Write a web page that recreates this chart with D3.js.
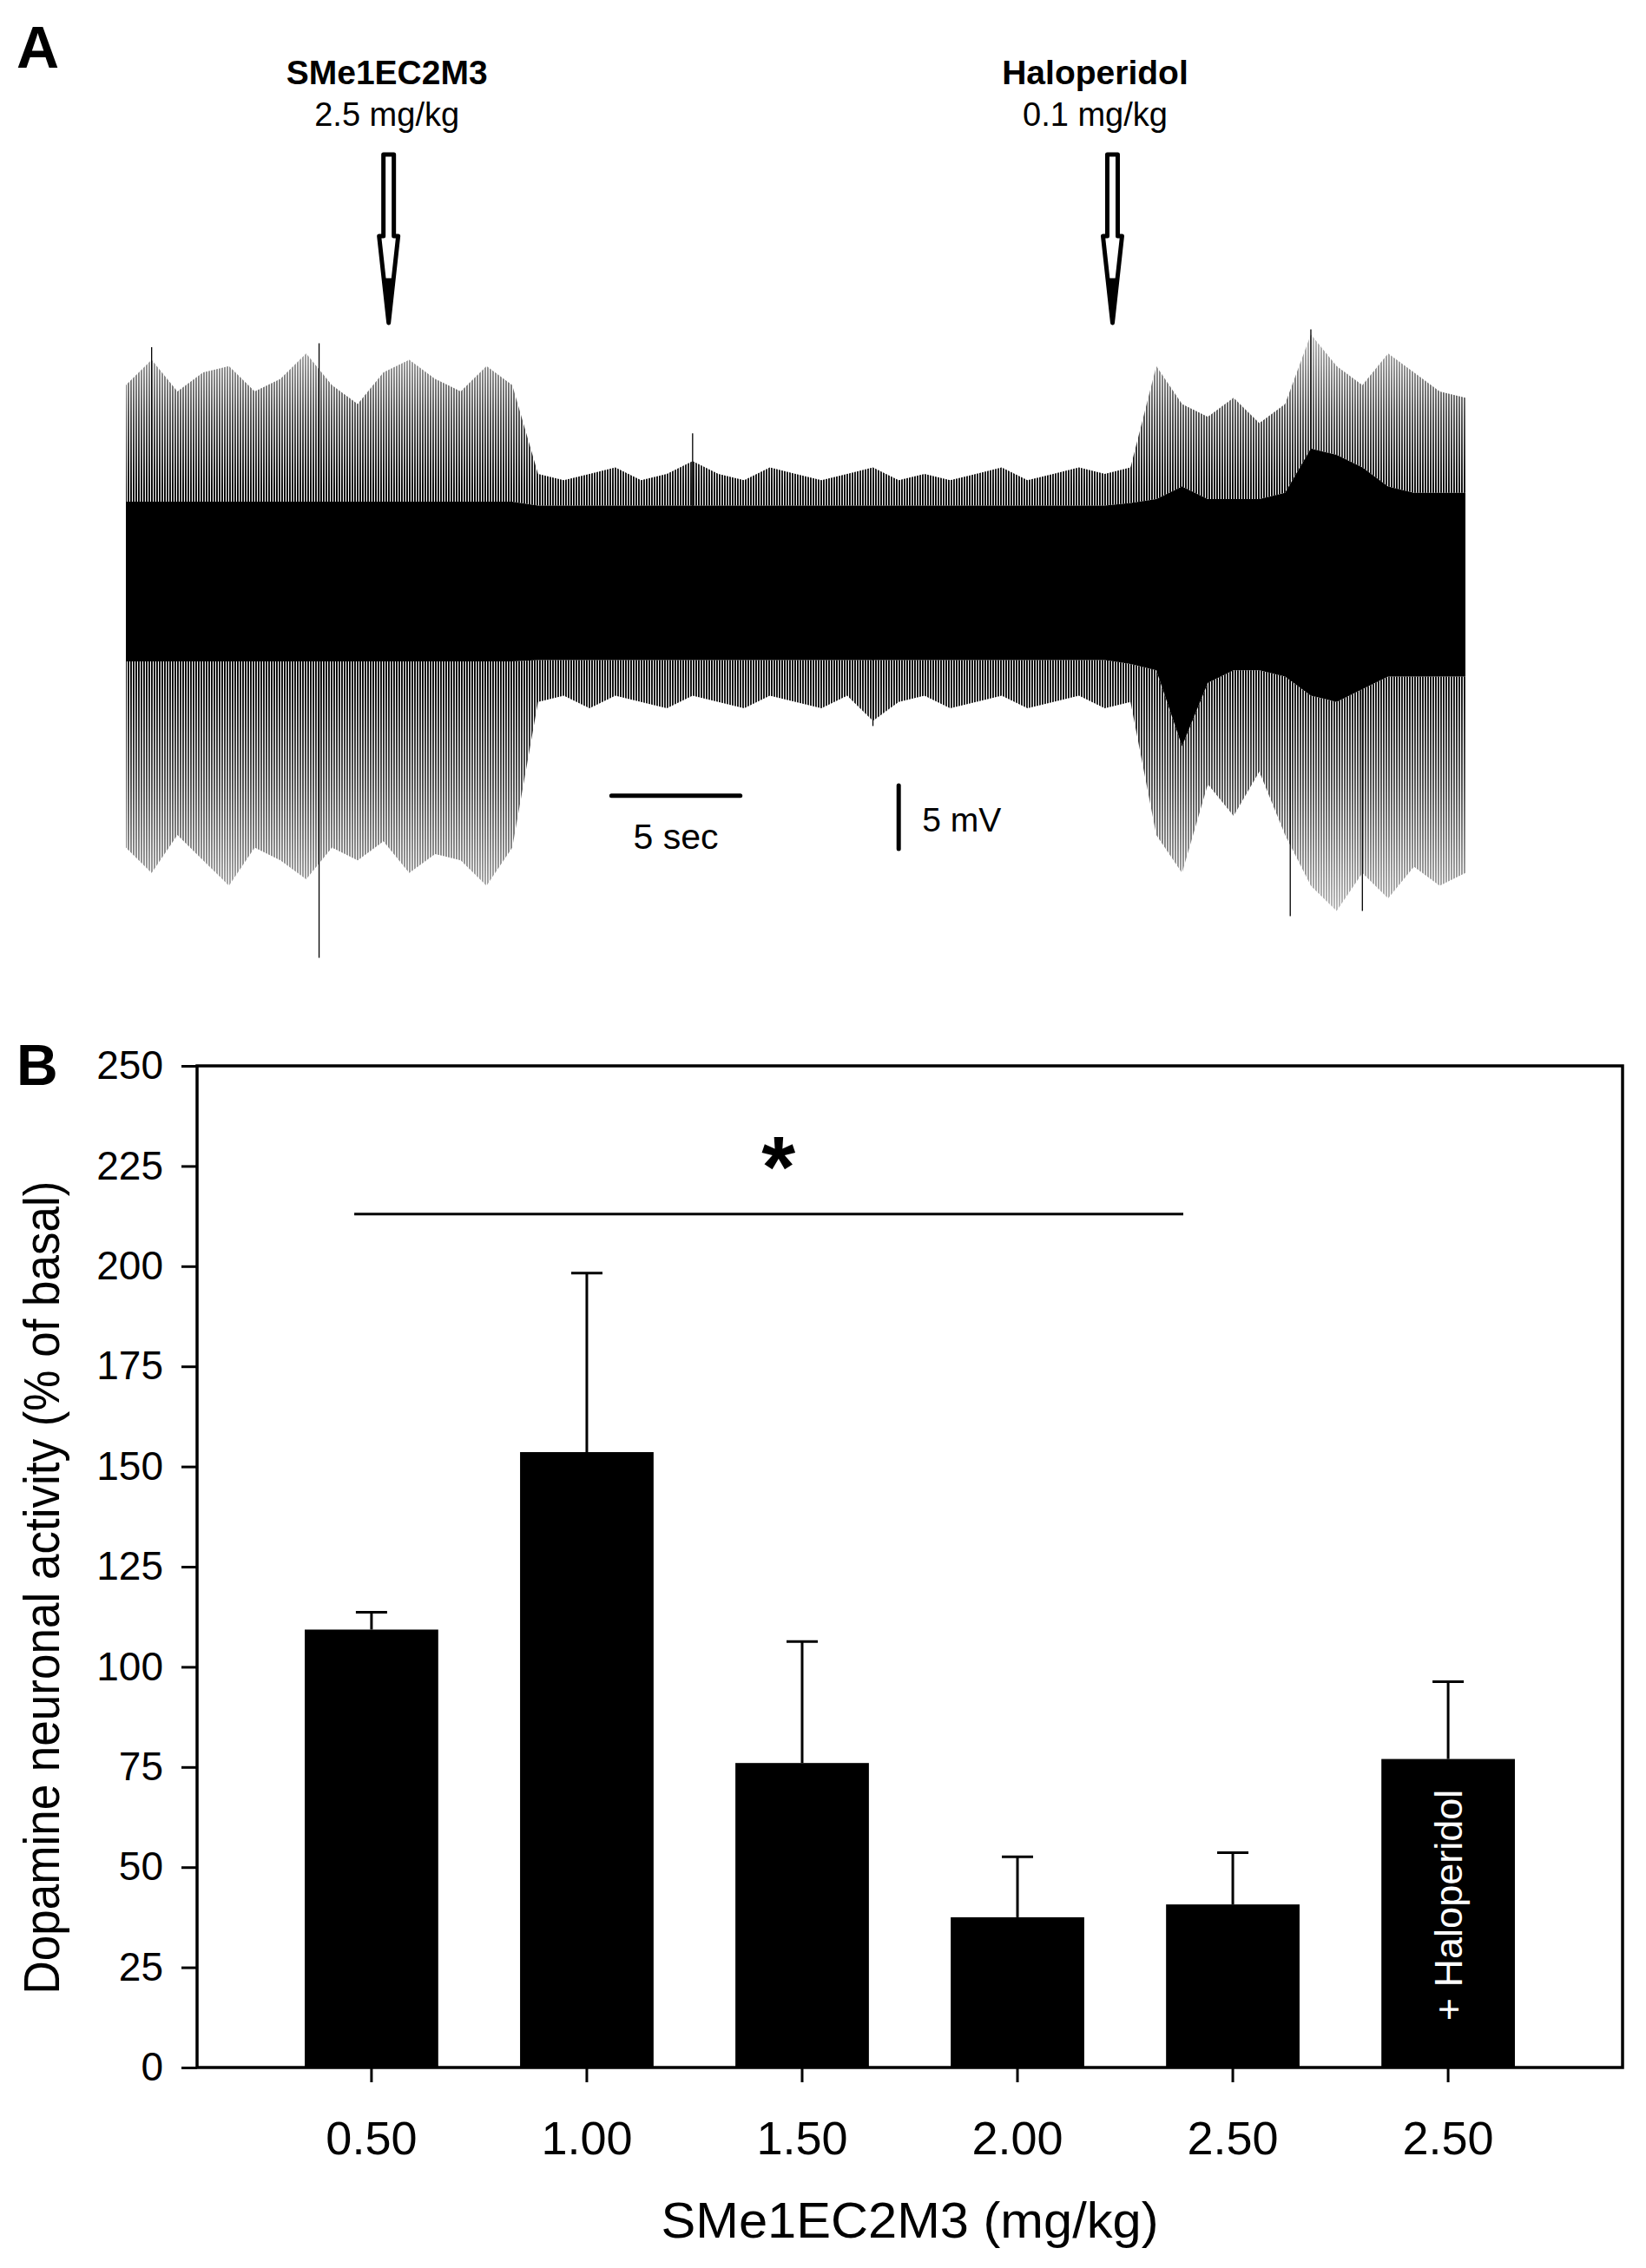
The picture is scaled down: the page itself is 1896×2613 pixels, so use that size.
<!DOCTYPE html>
<html>
<head>
<meta charset="utf-8">
<script src="https://cdn.jsdelivr.net/npm/d3@7"></script>
<style>
  body { margin: 0; background: #fff; }
  svg { display: block; font-family: "Liberation Sans", Arial, sans-serif; }
</style>
</head>
<body>
<svg id="fig" width="1896" height="2613"></svg>
<script>
// ---------- Panel A: extracellular recording (envelope read per 1 s bin, mV) ----------
const traceTime = d3.range(0, 53);
const spikeTop = [15.5, 17.5, 15.0, 16.5, 17.0, 15.0, 16.0, 18.0, 15.5, 14.0, 16.5, 17.5, 16.0, 15.0, 17.0, 15.5,
  8.5, 8.0, 8.5, 9.0, 8.0, 8.5, 9.5, 8.5, 8.0, 9.0, 8.5, 8.0, 8.5, 9.0, 8.0, 8.5, 8.0, 8.5, 9.0, 8.0, 8.5, 9.0, 8.5, 9.0,
  17.0, 14.0, 13.0, 14.5, 12.5, 14.0,
  19.5, 17.0, 15.5, 18.0, 16.5, 15.0, 14.5];
const spikeBottom = [-21.0, -23.0, -20.0, -22.0, -24.0, -21.0, -22.0, -23.5, -21.0, -22.0, -20.5, -23.0, -21.5, -22.0, -24.0, -21.0,
  -9.5, -9.0, -10.0, -9.0, -9.5, -10.0, -9.0, -9.5, -10.0, -9.0, -9.5, -10.0, -9.0, -11.0, -9.5, -9.0, -10.0, -9.5, -9.0, -10.0, -9.5, -9.0, -10.0, -9.5,
  -20.0, -23.0, -16.0, -18.5, -15.0, -20.0,
  -24.0, -26.0, -23.0, -25.0, -22.5, -24.0, -23.0];
const coreTop = [6.3, 6.3, 6.3, 6.3, 6.3, 6.3, 6.3, 6.3, 6.3, 6.3, 6.3, 6.3, 6.3, 6.3, 6.3, 6.3,
  6.0, 6.0, 6.0, 6.0, 6.0, 6.0, 6.0, 6.0, 6.0, 6.0, 6.0, 6.0, 6.0, 6.0, 6.0, 6.0, 6.0, 6.0, 6.0, 6.0, 6.0, 6.0, 6.0, 6.2,
  6.5, 7.5, 6.5, 6.5, 6.5, 7.0,
  10.5, 10.0, 9.0, 7.5, 7.0, 7.0, 7.0];
const coreBottom = [-6.3, -6.3, -6.3, -6.3, -6.3, -6.3, -6.3, -6.3, -6.3, -6.3, -6.3, -6.3, -6.3, -6.3, -6.3, -6.3,
  -6.2, -6.2, -6.2, -6.2, -6.2, -6.2, -6.2, -6.2, -6.2, -6.2, -6.2, -6.2, -6.2, -6.2, -6.2, -6.2, -6.2, -6.2, -6.2, -6.2, -6.2, -6.2, -6.2, -6.5,
  -7.0, -13.0, -8.0, -7.0, -7.0, -7.5,
  -9.0, -9.5, -8.5, -7.5, -7.5, -7.5, -7.5];
// single tall spikes [time s, peak mV]
const bigSpikes = [[1.0, 18.5], [7.5, 18.8], [7.5, -29.7], [22.0, 11.7], [29.0, -11.4], [45.2, -26.4], [46.0, 19.9], [48.0, -26.0]];
const injections = [
  {t: 10.2, drug: "SMe1EC2M3", dose: "2.5 mg/kg"},
  {t: 38.3, drug: "Haloperidol", dose: "0.1 mg/kg"}
];

// ---------- Panel B: bar chart ----------
const doses = ["0.50", "1.00", "1.50", "2.00", "2.50", "2.50"];
const activity = [109.3, 153.6, 76.0, 37.5, 40.7, 77.0];
const errUpper = [113.6, 198.3, 106.3, 52.6, 53.6, 96.3];
const yTicks = [0, 25, 50, 75, 100, 125, 150, 175, 200, 225, 250];
const sigLine = {from: -0.08, to: 3.77, value: 213, starAt: 1.89, starValue: 228.5};

const svg = d3.select("#fig");

// ================= Panel A =================
const tx = d3.scaleLinear().domain([0, 52]).range([145, 1688]);
const vy = d3.scaleLinear().domain([-10, 10]).range([816, 524]);

const defs = svg.append("defs");
// dense vertical hatch for the spike region
const pat = defs.append("pattern").attr("id", "spikes")
  .attr("patternUnits", "userSpaceOnUse").attr("width", 3).attr("height", 8);
pat.append("rect").attr("width", 1.9).attr("height", 8).attr("fill", "#000");

// spikes get sparser away from the baseline
const gy0 = vy(22), gy1 = vy(-30);
const grad = defs.append("linearGradient").attr("id", "fade")
  .attr("gradientUnits", "userSpaceOnUse")
  .attr("x1", 0).attr("x2", 0).attr("y1", gy0).attr("y2", gy1);
const off = v => (vy(v) - gy0) / (gy1 - gy0);
[[22, 0.12], [13, 0.7], [7, 1], [-7, 1], [-16, 0.7], [-30, 0.12]].forEach(([v, o]) =>
  grad.append("stop").attr("offset", off(v)).attr("stop-color", "#fff").attr("stop-opacity", o));
defs.append("mask").attr("id", "fadeMask").attr("maskUnits", "userSpaceOnUse")
  .attr("x", 0).attr("y", 0).attr("width", 1896).attr("height", 1200)
  .append("rect").attr("x", 0).attr("y", gy0).attr("width", 1896).attr("height", gy1 - gy0)
  .attr("fill", "url(#fade)");

const band = (lo, hi) => d3.area()
  .x((d, i) => tx(traceTime[i]))
  .y0((d, i) => vy(lo[i]))
  .y1((d, i) => vy(hi[i]));

const gA = svg.append("g");
const gSp = gA.append("g").attr("mask", "url(#fadeMask)");
gSp.append("path").datum(traceTime).attr("d", band(coreTop, spikeTop)).attr("fill", "url(#spikes)");
gSp.append("path").datum(traceTime).attr("d", band(spikeBottom, coreBottom)).attr("fill", "url(#spikes)");
gA.append("path").datum(traceTime).attr("d", band(coreBottom, coreTop)).attr("fill", "#000");

gA.selectAll(".big").data(bigSpikes).enter().append("line")
  .attr("x1", d => tx(d[0])).attr("x2", d => tx(d[0]))
  .attr("y1", vy(0)).attr("y2", d => vy(d[1]))
  .attr("stroke", "#000").attr("stroke-width", 1.3);

// arrows + labels
injections.forEach(inj => {
  const cx = tx(inj.t);
  const lx = cx - 2 - (inj.t > 20 ? 18 : 0);
  const g = svg.append("g");
  g.append("path")
    .attr("d", `M${cx - 6},178 L${cx + 6},178 L${cx + 6},272 L${cx + 11},272 L${cx},372 L${cx - 11},272 L${cx - 6},272 Z`)
    .attr("fill", "#fff").attr("stroke", "#000").attr("stroke-width", 5)
    .attr("stroke-linejoin", "round");
  g.append("path")
    .attr("d", `M${cx - 5},322 L${cx + 5},322 L${cx},372 Z`)
    .attr("fill", "#000").attr("stroke", "#000").attr("stroke-width", 3);
  g.append("text").attr("x", lx).attr("y", 97)
    .attr("text-anchor", "middle").attr("font-weight", "bold").attr("font-size", 39)
    .text(inj.drug);
  g.append("text").attr("x", lx).attr("y", 145)
    .attr("text-anchor", "middle").attr("font-size", 38)
    .text(inj.dose);
});

// scale bars
const barT0 = 18.85, barV0 = -16.9, vBarT = 30.0, vBarTop = -16.1;
svg.append("line")
  .attr("x1", tx(barT0)).attr("x2", tx(barT0 + 5))
  .attr("y1", vy(barV0)).attr("y2", vy(barV0))
  .attr("stroke", "#000").attr("stroke-width", 5).attr("stroke-linecap", "round");
svg.append("text").attr("x", (tx(barT0) + tx(barT0 + 5)) / 2).attr("y", 978)
  .attr("text-anchor", "middle").attr("font-size", 41).text("5 sec");
svg.append("line")
  .attr("x1", tx(vBarT)).attr("x2", tx(vBarT))
  .attr("y1", vy(vBarTop)).attr("y2", vy(vBarTop - 5))
  .attr("stroke", "#000").attr("stroke-width", 5).attr("stroke-linecap", "round");
svg.append("text").attr("x", tx(vBarT) + 27).attr("y", 958)
  .attr("font-size", 39).text("5 mV");

svg.append("text").attr("x", 19).attr("y", 78)
  .attr("font-weight", "bold").attr("font-size", 68).text("A");

// ================= Panel B =================
const plotL = 227, plotR = 1869, plotT = 1228, plotB = 2382;
const x = d3.scaleBand().domain(d3.range(doses.length)).range([plotL, plotR])
  .paddingInner(0.38).paddingOuter(0.5);
const y = d3.scaleLinear().domain([0, 250]).range([plotB, plotT]);
const xc = i => x(i) + x.bandwidth() / 2;
const xi = v => xc(0) + v * x.step();

svg.append("text").attr("x", 19).attr("y", 1250)
  .attr("font-weight", "bold").attr("font-size", 66).text("B");

const gB = svg.append("g");

// bars
gB.selectAll(".bar").data(activity).enter().append("rect")
  .attr("x", (d, i) => x(i)).attr("width", x.bandwidth())
  .attr("y", d => y(d)).attr("height", d => plotB - y(d))
  .attr("fill", "#000");

// error bars (upper only)
gB.selectAll(".err").data(errUpper).enter().append("line")
  .attr("x1", (d, i) => xc(i)).attr("x2", (d, i) => xc(i))
  .attr("y1", (d, i) => y(activity[i])).attr("y2", d => y(d))
  .attr("stroke", "#000").attr("stroke-width", 3);
gB.selectAll(".cap").data(errUpper).enter().append("line")
  .attr("x1", (d, i) => xc(i) - 18).attr("x2", (d, i) => xc(i) + 18)
  .attr("y1", d => y(d)).attr("y2", d => y(d))
  .attr("stroke", "#000").attr("stroke-width", 3);

// label inside last bar
gB.append("text")
  .attr("transform", `translate(${xc(5) + 16},${2195}) rotate(-90)`)
  .attr("text-anchor", "middle").attr("fill", "#fff").attr("font-size", 45)
  .text("+ Haloperidol");

// significance line and star
gB.append("line")
  .attr("x1", xi(sigLine.from)).attr("x2", xi(sigLine.to))
  .attr("y1", y(sigLine.value)).attr("y2", y(sigLine.value))
  .attr("stroke", "#000").attr("stroke-width", 3);
gB.append("text").attr("x", xi(sigLine.starAt)).attr("y", y(sigLine.starValue) + 52)
  .attr("text-anchor", "middle").attr("font-weight", "bold").attr("font-size", 100)
  .text("*");

// frame
gB.append("rect").attr("x", plotL).attr("y", plotT)
  .attr("width", plotR - plotL).attr("height", plotB - plotT)
  .attr("fill", "none").attr("stroke", "#000").attr("stroke-width", 3.5);

// axes
const yAxis = gB.append("g").attr("transform", `translate(${plotL},0)`)
  .call(d3.axisLeft(y).tickValues(yTicks).tickSize(18).tickSizeOuter(0).tickPadding(21));
yAxis.select(".domain").remove();
yAxis.selectAll("line").attr("stroke-width", 3);
yAxis.attr("font-family", null).attr("font-size", 46);

const xAxis = gB.append("g").attr("transform", `translate(0,${plotB})`)
  .call(d3.axisBottom(x).tickFormat(i => doses[i]).tickSize(17).tickSizeOuter(0));
xAxis.select(".domain").remove();
xAxis.selectAll("line").attr("stroke-width", 3);
xAxis.attr("font-family", null).attr("font-size", 54);
xAxis.selectAll("text").attr("y", 100).attr("dy", 0);

// axis titles
svg.append("text").attr("x", (plotL + plotR) / 2).attr("y", 2578)
  .attr("text-anchor", "middle").attr("font-size", 58)
  .attr("textLength", 573).attr("lengthAdjust", "spacingAndGlyphs")
  .text("SMe1EC2M3 (mg/kg)");
svg.append("text")
  .attr("transform", "translate(68,1829) rotate(-90)")
  .attr("text-anchor", "middle").attr("font-size", 58)
  .attr("textLength", 937).attr("lengthAdjust", "spacingAndGlyphs")
  .text("Dopamine neuronal activity (% of basal)");
</script>
</body>
</html>
